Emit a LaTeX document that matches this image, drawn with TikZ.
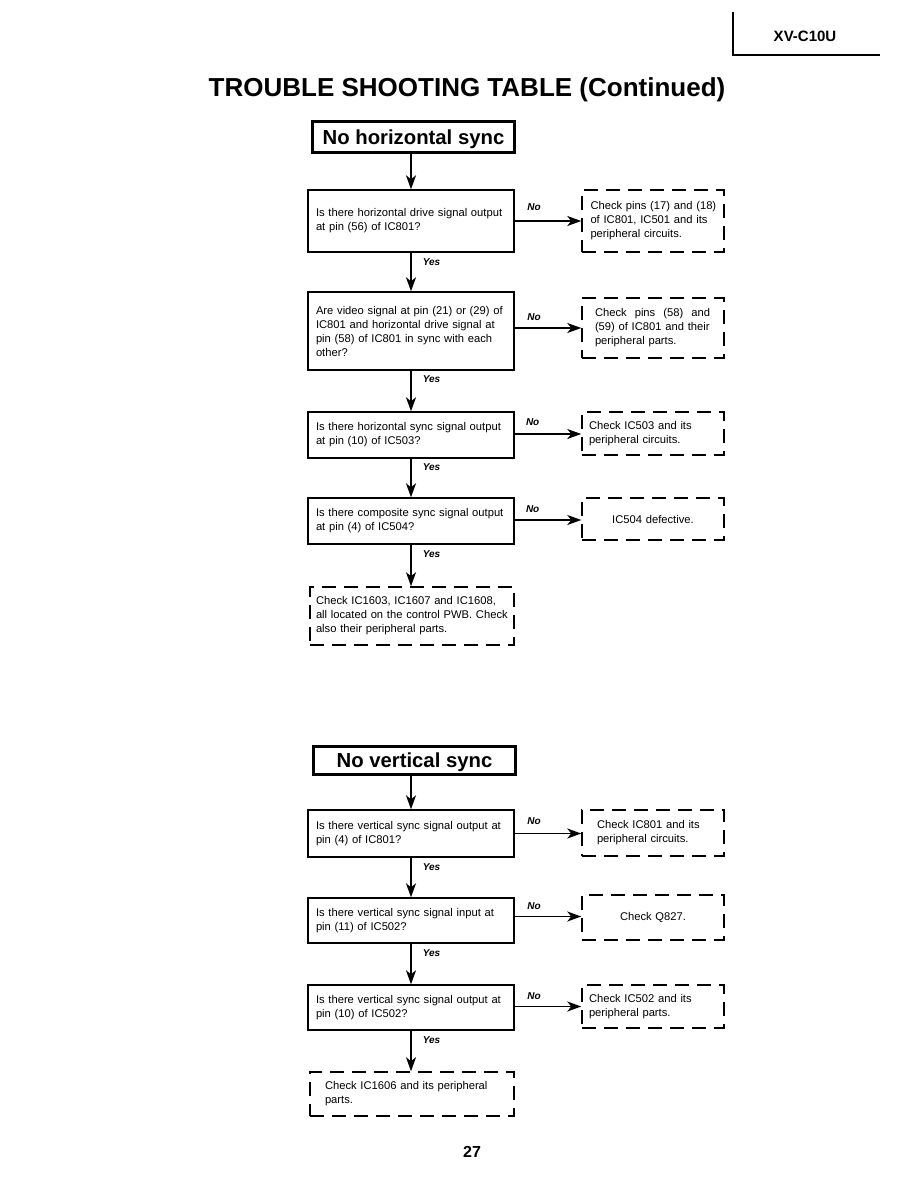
\documentclass[tikz,border=0pt]{standalone}
\usepackage{fontspec}
\setmainfont{Liberation Sans}
\usetikzlibrary{arrows.meta,calc}
\newcommand{\bodyf}{\fontsize{11.2}{14}\selectfont}
\newcommand{\jline}[1]{\makebox[\hsize][s]{#1}}
\newcommand{\oneline}[1]{\mbox{#1}}
\begin{document}
\begin{tikzpicture}[x=1pt,y=-1pt,
  qbox/.style={draw, line width=1.4pt, minimum width=206pt, inner xsep=0pt, inner ysep=0pt, text width=190pt, align=left, font=\bodyf},
  chk/.style={draw, dash pattern=on 14pt off 8pt, line width=1.5pt, minimum width=142pt, inner xsep=0pt, inner ysep=0pt, align=left, font=\bodyf},
  ttl/.style={draw, line width=3pt, minimum width=202pt, inner sep=0pt, text height=14.6pt, text depth=0pt, font=\fontsize{20.3}{24}\selectfont\bfseries},
  arr/.style={line width=1.6pt, -{Stealth[length=14pt,width=10pt,inset=4pt]}},
  lbl/.style={font=\fontsize{10}{12}\selectfont\bfseries\itshape, inner sep=0pt}]
\useasboundingbox[fill=white] (0,0) rectangle (918,1188);
% header
\coordinate (h1) at (733,12);
\coordinate (h2) at (733,55);
\coordinate (h3) at (880,55);
\draw[line width=1.2pt] (h1) -- (h2) -- (h3);
\node[font=\fontsize{15}{18}\selectfont\bfseries] (model) at (805,36) {XV-C10U};
\node[font=\fontsize{26}{30}\selectfont\bfseries] (title) at (467,90) {TROUBLE SHOOTING TABLE (Continued)};

% horizontal section
\node[ttl, minimum height=30pt] (t1) at (413.5,137) {No horizontal sync};
\node[qbox, minimum height=62pt] (b1) at (411,221) {\oneline{Is there horizontal drive signal output}\\\oneline{at pin (56) of IC801?}};
\node[qbox, minimum height=78pt] (b2) at (411,331) {\jline{Are video signal at pin (21) or (29) of}\\\jline{IC801 and horizontal drive signal at}\\\jline{pin (58) of IC801 in sync with each}\\other?};
\node[qbox, minimum height=46pt] (b3) at (411,435) {\oneline{Is there horizontal sync signal output}\\\oneline{at pin (10) of IC503?}};
\node[qbox, minimum height=46pt] (b4) at (411,521) {\oneline{Is there composite sync signal output}\\\oneline{at pin (4) of IC504?}};
\node[chk, minimum width=204pt, minimum height=58pt, text width=192pt] (c5) at (412,616) {\oneline{Check IC1603, IC1607 and IC1608,}\\\oneline{all located on the control PWB. Check}\\\oneline{also their peripheral parts.}};

\node[chk, minimum height=62pt, text width=125pt] (d1) at (653,221) {\oneline{Check pins (17) and (18)}\\\oneline{of IC801, IC501 and its}\\\oneline{peripheral circuits.}};
\node[chk, minimum height=60pt, text width=116pt] (d2) at (653,328) {\makebox[115pt][s]{Check\hfill pins\hfill (58)\hfill and}\\\oneline{(59) of IC801 and their}\\\oneline{peripheral parts.}};
\node[chk, minimum height=43pt, text width=128pt] (d3) at (653,433.5) {\oneline{Check IC503 and its}\\\oneline{peripheral circuits.}};
\node[chk, minimum height=42pt, text width=128pt, align=center] (d4) at (653,519) {IC504 defective.};

\draw[arr] (b1.north |- t1.south) -- (b1.north);
\draw[arr] (b1.south) -- node[lbl, pos=0.25, right=11pt] {Yes} (b2.north);
\draw[arr] (b2.south) -- node[lbl, pos=0.2, right=11pt] {Yes} (b3.north);
\draw[arr] (b3.south) -- node[lbl, pos=0.22, right=11pt] {Yes} (b4.north);
\draw[arr] (b4.south) -- node[lbl, pos=0.22, right=11pt] {Yes} (b4.south |- c5.north);

\draw[arr] (b1.east) -- node[lbl, pos=0.29, above=10pt] {No} (b1.east -| d1.west);
\draw[arr] ($(b2.east)+(0,-3)$) -- node[lbl, pos=0.29, above=7pt] {No} ($(b2.east -| d2.west)+(0,-3)$);
\draw[arr] ($(b3.east)+(0,-1)$) -- node[lbl, pos=0.27, above=8pt] {No} ($(b3.east -| d3.west)+(0,-1)$);
\draw[arr] ($(b4.east)+(0,-1)$) -- node[lbl, pos=0.27, above=7pt] {No} ($(b4.east -| d4.west)+(0,-1)$);

% vertical section
\node[ttl, minimum height=28pt] (t2) at (414.5,760) {No vertical sync};
\node[qbox, minimum height=47pt] (v1) at (411,833.5) {\oneline{Is there vertical sync signal output at}\\\oneline{pin (4) of IC801?}};
\node[qbox, minimum height=45pt] (v2) at (411,920.5) {\oneline{Is there vertical sync signal input at}\\\oneline{pin (11) of IC502?}};
\node[qbox, minimum height=45pt] (v3) at (411,1007.5) {\oneline{Is there vertical sync signal output at}\\\oneline{pin (10) of IC502?}};
\node[chk, minimum width=204pt, minimum height=44pt, text width=174pt] (c6) at (412,1094) {\oneline{Check IC1606 and its peripheral}\\\oneline{parts.}};

\node[chk, minimum height=46pt, text width=112pt] (e1) at (653,833) {\oneline{Check IC801 and its}\\\oneline{peripheral circuits.}};
\node[chk, minimum height=45pt, text width=128pt, align=center] (e2) at (653,917.5) {Check Q827.};
\node[chk, minimum height=43pt, text width=128pt] (e3) at (653,1006.5) {\oneline{Check IC502 and its}\\\oneline{peripheral parts.}};

\draw[arr] (v1.north |- t2.south) -- (v1.north);
\draw[arr] (v1.south) -- node[lbl, pos=0.24, right=11pt] {Yes} (v2.north);
\draw[arr] (v2.south) -- node[lbl, pos=0.22, right=11pt] {Yes} (v3.north);
\draw[arr] (v3.south) -- node[lbl, pos=0.24, right=11pt] {Yes} (v3.south |- c6.north);

\draw[arr] (v1.east) -- node[lbl, pos=0.29, above=8pt] {No} (v1.east -| e1.west);
\draw[arr] ($(v2.east)+(0,-4)$) -- node[lbl, pos=0.29, above=6pt] {No} ($(v2.east -| e2.west)+(0,-4)$);
\draw[arr] ($(v3.east)+(0,-1)$) -- node[lbl, pos=0.29, above=6pt] {No} ($(v3.east -| e3.west)+(0,-1)$);

\node[font=\fontsize{16}{19}\selectfont\bfseries] (page) at (472,1152) {27};
\end{tikzpicture}
\end{document}
